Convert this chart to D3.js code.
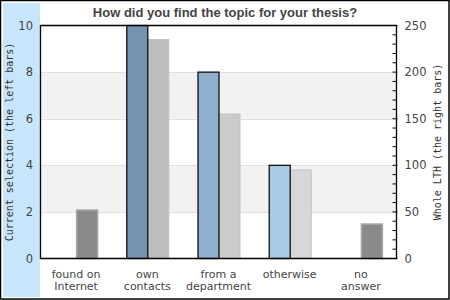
<!DOCTYPE html>
<html>
<head>
<meta charset="utf-8">
<script src="https://cdn.jsdelivr.net/npm/d3@7"></script>
<style>
  body { margin: 0; background: #fff; }
  svg { display: block; }
</style>
</head>
<body>
<script>
const categories = [["found on", "Internet"], ["own", "contacts"], ["from a", "department"], ["otherwise"], ["no", "answer"]];
const currentValues = [0, 10, 8, 4, 0];
const wholeValues = [52, 235, 155, 95, 37];
const leftColors = ["#7393b0", "#7393b0", "#8fb0cc", "#a9cbe6", "#7393b0"];
const rightColors = ["#8a8a8a", "#bebebe", "#cbcbcb", "#d7d7d7", "#8a8a8a"];
const leftTicks = [0, 2, 4, 6, 8, 10];
const rightTicks = [0, 50, 100, 150, 200, 250];

const width = 450, height = 300;
const margin = { top: 25.5, right: 53.5, bottom: 41.5, left: 40.5 };

const svg = d3.select("body").append("svg")
  .attr("width", width)
  .attr("height", height);

// outer frame and the light blue strip
svg.append("rect").attr("x", 0.5).attr("y", 0.5).attr("width", 448.5).attr("height", 298.5)
  .attr("fill", "#fff").attr("stroke", "#000").attr("stroke-width", 1.5);
svg.append("rect").attr("x", 3).attr("y", 3).attr("width", 37).attr("height", 294)
  .attr("fill", "#c7e6fb");

const x0 = margin.left, x1 = width - margin.right;
const y0 = height - margin.bottom, y1 = margin.top;

const x = d3.scaleBand().domain(d3.range(categories.length)).range([x0, x1]);
const yLeft = d3.scaleLinear().domain([0, 10]).range([y0, y1]);
const yRight = d3.scaleLinear().domain([0, 250]).range([y0, y1]);

// bands and grid
const bands = [[2, 4], [6, 8]];
svg.append("g").selectAll("rect").data(bands).join("rect")
  .attr("x", x0).attr("width", x1 - x0)
  .attr("y", d => yLeft(d[1])).attr("height", d => yLeft(d[0]) - yLeft(d[1]))
  .attr("fill", "#f2f2f2");
svg.append("g").selectAll("line").data([2, 4, 6, 8]).join("line")
  .attr("x1", x0).attr("x2", x1)
  .attr("y1", d => Math.round(yLeft(d)) + 0.5).attr("y2", d => Math.round(yLeft(d)) + 0.5)
  .attr("stroke", "#e0e0e0");

const bw = 21;

// right bars (whole LTH)
svg.append("g").selectAll("rect").data(wholeValues).join("rect")
  .attr("x", (d, i) => x(i) + x.bandwidth() / 2 + 0.5)
  .attr("y", d => yRight(d))
  .attr("width", bw)
  .attr("height", d => y0 - yRight(d))
  .attr("fill", (d, i) => rightColors[i])
  .attr("stroke", (d, i) => currentValues[i] === 0 ? "#a8a8a8" : "#c0c0c0")
  .attr("stroke-width", (d, i) => currentValues[i] === 0 ? 1.5 : 1);

// left bars (current selection)
svg.append("g").selectAll("rect").data(currentValues.map((v, i) => ({ v, i })).filter(d => d.v > 0)).join("rect")
  .attr("x", d => x(d.i) + x.bandwidth() / 2 - bw + 0.5)
  .attr("y", d => yLeft(d.v))
  .attr("width", bw)
  .attr("height", d => y0 - yLeft(d.v))
  .attr("fill", d => leftColors[d.i])
  .attr("stroke", "#000")
  .attr("stroke-width", 1.2);

// plot frame
svg.append("path")
  .attr("d", `M${x0},${y1}H${x1}V${y0}H${x0}Z`)
  .attr("fill", "none").attr("stroke", "#000").attr("stroke-width", 1.3);

// right axis minor ticks
svg.append("g").selectAll("line").data(d3.range(0, 251, 10)).join("line")
  .attr("x1", x1 - 4).attr("x2", d => d % 50 === 0 ? x1 + 1 : x1)
  .attr("y1", d => yRight(d)).attr("y2", d => yRight(d))
  .attr("stroke", "#000");

// tick labels
svg.append("g").selectAll("text").data(leftTicks).join("text")
  .attr("x", 33).attr("y", d => yLeft(d)).attr("dy", "0.35em")
  .attr("text-anchor", "end")
  .attr("font-family", "DejaVu Sans").attr("font-size", 11.5).attr("fill", "#444")
  .text(d => d);
svg.append("g").selectAll("text").data(rightTicks).join("text")
  .attr("x", x1 + 8).attr("y", d => yRight(d)).attr("dy", "0.35em")
  .attr("font-family", "DejaVu Sans").attr("font-size", 11.5).attr("fill", "#444")
  .text(d => d);

// category labels, one text per line
const lines = categories.flatMap((c, i) => c.map((s, j) => ({ s, i, j })));
svg.append("g").selectAll("text").data(lines).join("text")
  .attr("x", d => x(d.i) + x.bandwidth() / 2)
  .attr("y", d => 277.5 + d.j * 12.5)
  .attr("text-anchor", "middle")
  .attr("font-family", "DejaVu Sans").attr("font-size", 11).attr("fill", "#444")
  .text(d => d.s);

// axis titles
svg.append("text")
  .attr("transform", `translate(13,${(y0 + y1) / 2}) rotate(-90)`)
  .attr("text-anchor", "middle")
  .attr("font-family", "DejaVu Sans Mono").attr("font-size", 10).attr("fill", "#333")
  .text("Current selection (the left bars)");
svg.append("text")
  .attr("transform", `translate(441,${(y0 + y1) / 2}) rotate(-90)`)
  .attr("text-anchor", "middle")
  .attr("font-family", "DejaVu Sans Mono").attr("font-size", 10).attr("fill", "#333")
  .text("Whole LTH (the right bars)");

// title
svg.append("text")
  .attr("x", 225).attr("y", 17)
  .attr("text-anchor", "middle")
  .attr("font-family", "Liberation Sans, Arial").attr("font-weight", "bold")
  .attr("font-size", 13).attr("fill", "#444")
  .text("How did you find the topic for your thesis?");
</script>
</body>
</html>
